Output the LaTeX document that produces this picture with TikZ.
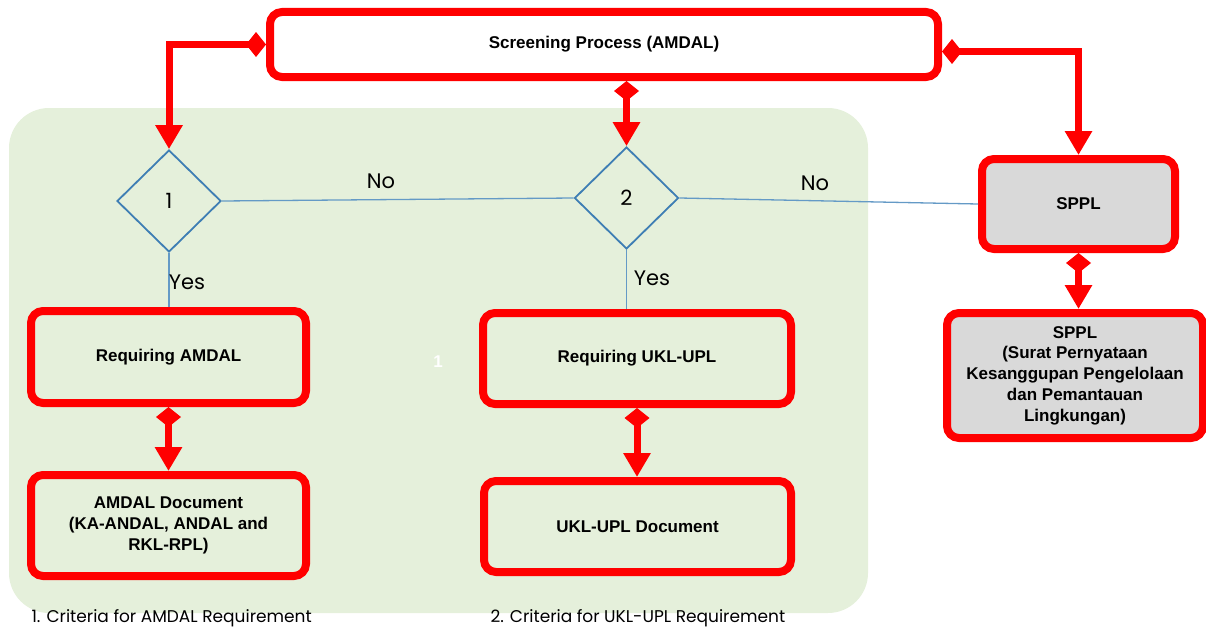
\documentclass[tikz,border=0pt]{standalone}
\usepackage{fontspec}
\setmainfont{Liberation Sans}
\newfontfamily\geo{Poppins}
\usetikzlibrary{arrows.meta,shapes.geometric}
\definecolor{panelgreen}{RGB}{229,240,219}
\definecolor{flowblue}{RGB}{62,126,180}
\definecolor{lineblue}{RGB}{100,154,198}
\definecolor{boxgray}{RGB}{217,217,217}
\tikzset{
  redbox/.style={draw=red, line width=8pt, rounded corners=12pt, align=center,
    inner sep=0pt, font=\bfseries\fontsize{17}{20.7}\selectfont},
  graybox/.style={redbox, fill=boxgray},
  decision/.style={diamond, draw=flowblue, line width=1.8pt, aspect=1,
    minimum width=104pt, minimum height=102pt, inner sep=0pt,
    font=\geo\fontsize{21}{24}\selectfont},
  redlink/.style={draw=red, line width=7pt,
    {Diamond[length=20pt,width=25pt]}-{Triangle[length=24pt,width=26pt]}},
  bluelink/.style={draw=lineblue, line width=1.3pt},
  answer/.style={font=\geo\fontsize{21}{24}\selectfont},
  caption/.style={anchor=base west, font=\geo\fontsize{17}{20}\selectfont}
}
\begin{document}
\begin{tikzpicture}[x=1pt,y=-1pt]
\useasboundingbox (0,0) rectangle (1206,626);
% background panel for the two criteria
\fill[panelgreen, rounded corners=40pt] (9,108) rectangle (868,613);

% boxes
\node[redbox, minimum width=668pt, minimum height=65pt] (screen) at (604,44.5) {Screening Process (AMDAL)};
\node[redbox, minimum width=275pt, minimum height=92pt] (reqA) at (168.5,357) {Requiring AMDAL};
\node[redbox, minimum width=275pt, minimum height=101pt] (docA) at (168.5,525.5) {AMDAL Document\\(KA-ANDAL, ANDAL and\\RKL-RPL)};
\node[redbox, minimum width=308pt, minimum height=91pt] (reqU) at (637,358.5) {Requiring UKL-UPL};
\node[redbox, minimum width=307pt, minimum height=91pt] (docU) at (637.5,526.5) {UKL-UPL Document};
\node[graybox, minimum width=193pt, minimum height=90pt] (sppl) at (1078.5,204) {SPPL};
\node[graybox, minimum width=256pt, minimum height=125pt] (spplL) at (1075,375.5) {SPPL\\(Surat Pernyataan\\Kesanggupan Pengelolaan\\dan Pemantauan\\Lingkungan)};

% decisions
\node[decision] (d1) at (169,201) {1};
\node[decision] (d2) at (626.5,198) {2};

% blue yes/no connectors
\draw[bluelink] (d1.east) -- (d2.west);
\draw[bluelink] (d2.east) -- (sppl.west);
\draw[bluelink] (d1.south) -- (d1.south |- reqA.north);
\draw[bluelink] (d2.south) -- (d2.south |- reqU.north);

\node[answer] (no1) at (381,181) {No};
\node[answer] (no2) at (815,183) {No};
\node[answer] (yes1) at (187,282) {Yes};
\node[answer] (yes2) at (652,278) {Yes};

% red flow connectors
\draw[redlink] (screen.west) -| (d1.north);
\draw[redlink] (d2.north |- screen.south) -- (d2.north);
\draw[redlink] ([yshift=-7pt]screen.east) -| (sppl.north);
\draw[redlink] (reqA.south) -- (docA.north);
\draw[redlink] (reqU.south) -- (reqU.south |- docU.north);
\draw[redlink] (sppl.south) -- (sppl.south |- spplL.north);

% stray label
\node[text=white, font=\bfseries\fontsize{17}{20}\selectfont] (one) at (438,362) {1};

% captions
\node[caption] (cap1) at (28,622) {1. Criteria for AMDAL Requirement};
\node[caption] (cap2) at (487,622) {2. Criteria for UKL-UPL Requirement};
\end{tikzpicture}
\end{document}
